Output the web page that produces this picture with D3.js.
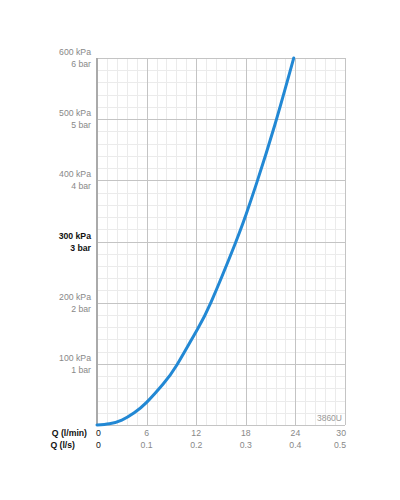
<!DOCTYPE html>
<html>
<head>
<meta charset="utf-8">
<script src="https://cdn.jsdelivr.net/npm/d3@7"></script>
<style>
  html, body { margin: 0; padding: 0; background: #fff; }
  svg text { font-family: "Liberation Sans", Arial, sans-serif; }
  .grid line { shape-rendering: crispEdges; }
  .grid path { display: none; }
</style>
</head>
<body>
<svg id="chart" width="400" height="500"></svg>
<script>
// flow (l/min) vs pressure (kPa)
var flowLpm = [0, 1.5, 3, 4.5, 6, 8, 9.7, 12, 13.8, 16.7, 18, 19.3, 21.5, 23.8];
var pressureKpa = [0, 2, 8, 20, 37, 67, 99, 153, 201, 296, 343, 395, 490, 600];

var lpmTicks = [0, 6, 12, 18, 24, 30];
var lpsLabels = ['0', '0.1', '0.2', '0.3', '0.4', '0.5'];
var kpaTicks = [100, 200, 300, 400, 500, 600];
var barLabels = ['1 bar', '2 bar', '3 bar', '4 bar', '5 bar', '6 bar'];
var modelName = '3860U';

var padL = 97, padR = 345, padT = 58, padB = 425;
var svg = d3.select('#chart');

var x = d3.scaleLinear().domain([0, 30]).range([padL, padR]);
var y = d3.scaleLinear().domain([0, 600]).range([padB, padT]);

// minor grid
var minorX = d3.range(0, 30.01, 1.2);
var minorY = d3.range(0, 600.1, 20);
svg.append('g').attr('class', 'grid')
    .attr('transform', `translate(0, ${padB})`)
    .call(d3.axisBottom(x).tickValues(minorX).tickSize(-(padB - padT)).tickFormat(''))
    .selectAll('line').attr('stroke', '#ebebeb');
svg.append('g').attr('class', 'grid')
    .attr('transform', `translate(${padL}, 0)`)
    .call(d3.axisLeft(y).tickValues(minorY).tickSize(-(padR - padL)).tickFormat(''))
    .selectAll('line').attr('stroke', '#ebebeb');

// major grid
svg.append('g').attr('class', 'grid')
    .attr('transform', `translate(0, ${padB})`)
    .call(d3.axisBottom(x).tickValues(lpmTicks).tickSize(-(padB - padT)).tickFormat(''))
    .selectAll('line').attr('stroke', '#c4c4c4');
svg.append('g').attr('class', 'grid')
    .attr('transform', `translate(${padL}, 0)`)
    .call(d3.axisLeft(y).tickValues([0].concat(kpaTicks)).tickSize(-(padR - padL)).tickFormat(''))
    .selectAll('line').attr('stroke', '#c4c4c4');

// left axis line
svg.append('line')
    .attr('x1', padL).attr('x2', padL)
    .attr('y1', padT).attr('y2', padB)
    .attr('stroke', '#aaa').attr('stroke-width', 2);

// model name
svg.append('text')
    .attr('x', padR - 3).attr('y', padB - 4)
    .attr('text-anchor', 'end')
    .attr('font-size', 8.5)
    .attr('fill', '#999')
    .text(modelName);

// curve
var pts = flowLpm.map(function (d, i) { return [d, pressureKpa[i]]; });
var line = d3.line()
    .x(function (d) { return x(d[0]); })
    .y(function (d) { return y(d[1]); })
    .curve(d3.curveNatural);
svg.append('path')
    .datum(pts)
    .attr('d', line)
    .attr('fill', 'none')
    .attr('stroke', '#2288d4')
    .attr('stroke-width', 3)
    .attr('stroke-linecap', 'round');

// y labels
var yl = svg.append('g').selectAll('g').data(kpaTicks).enter().append('g');
yl.append('text')
    .attr('x', padL - 6).attr('y', function (d) { return y(d) - 3; })
    .attr('text-anchor', 'end')
    .attr('font-size', 8.7)
    .attr('font-weight', function (d) { return d === 300 ? 'bold' : 'normal'; })
    .attr('fill', function (d) { return d === 300 ? '#111' : '#888'; })
    .text(function (d) { return d + ' kPa'; });
yl.append('text')
    .attr('x', padL - 6).attr('y', function (d) { return y(d) + 9; })
    .attr('text-anchor', 'end')
    .attr('font-size', 8.7)
    .attr('font-weight', function (d) { return d === 300 ? 'bold' : 'normal'; })
    .attr('fill', function (d) { return d === 300 ? '#111' : '#888'; })
    .text(function (d, i) { return barLabels[i]; });

// x labels
var row1 = padB + 11, row2 = padB + 23;
svg.append('text').attr('x', 87).attr('y', row1).attr('text-anchor', 'end')
    .attr('font-size', 8.7).attr('font-weight', 'bold').attr('fill', '#111').text('Q (l/min)');
svg.append('text').attr('x', 75).attr('y', row2).attr('text-anchor', 'end')
    .attr('font-size', 8.7).attr('font-weight', 'bold').attr('fill', '#111').text('Q (l/s)');

function anchorFor(i) { return i === 0 ? 'start' : (i === lpmTicks.length - 1 ? 'end' : 'middle'); }
function xFor(d, i) { return i === 0 ? x(d) - 1 : (i === lpmTicks.length - 1 ? x(d) + 1 : x(d)); }

svg.append('g').selectAll('text').data(lpmTicks).enter().append('text')
    .attr('x', xFor).attr('y', row1)
    .attr('text-anchor', function (d, i) { return anchorFor(i); })
    .attr('font-size', 8.7)
    .attr('fill', function (d, i) { return i === 0 ? '#111' : '#888'; })
    .text(function (d) { return d; });
svg.append('g').selectAll('text').data(lpmTicks).enter().append('text')
    .attr('x', xFor).attr('y', row2)
    .attr('text-anchor', function (d, i) { return anchorFor(i); })
    .attr('font-size', 8.7)
    .attr('fill', function (d, i) { return i === 0 ? '#111' : '#888'; })
    .text(function (d, i) { return lpsLabels[i]; });
</script>
</body>
</html>
